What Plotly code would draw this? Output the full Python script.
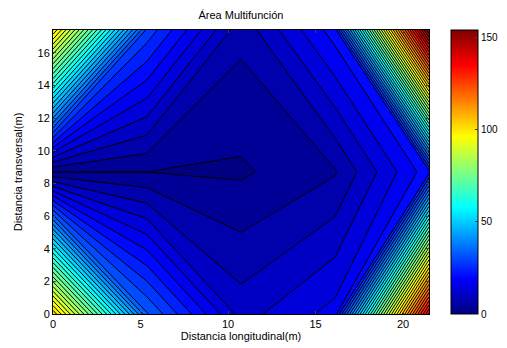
import plotly.graph_objects as go

# Grid (metres)
x_vals = [0, 5.37, 10.74, 16.11, 21.48]
y_vals = [0, 8.7, 17.4]

# Values per row (y = 0, 8.7, 17.4)
z_row_0 = [103.0, 33.8, 11.96, 18.06, 138.0]
z_row_1 = [3.34, 3.34, 2.81, 6.37, 22.1]
z_row_2 = [100.0, 29.1, 7.7, 21.8, 154.0]

cbar_ticks = [0, 50, 100, 150]
c_min, c_max = 0, 154

jet = [
    [0.0, "rgb(0,0,128)"],
    [0.125, "rgb(0,0,255)"],
    [0.375, "rgb(0,255,255)"],
    [0.625, "rgb(255,255,0)"],
    [0.875, "rgb(255,0,0)"],
    [1.0, "rgb(128,0,0)"],
]

step = c_max / 46.0
font = "Liberation Sans, Arial, sans-serif"

fig = go.Figure()
fig.add_trace(go.Contour(
    x=x_vals, y=y_vals, z=[z_row_0, z_row_1, z_row_2],
    colorscale=jet, zauto=False, zmin=c_min, zmax=c_max,
    contours=dict(start=step, end=step * 45, size=step, coloring="fill", showlines=True),
    line=dict(color="black", width=1, smoothing=0),
    showscale=False, hoverinfo="skip",
))
fig.add_trace(go.Scatter(
    x=[None], y=[None], mode="markers", showlegend=False,
    marker=dict(color=[c_min], cmin=c_min, cmax=c_max, colorscale=jet, showscale=True,
                colorbar=dict(x=1.058, xanchor="left", y=0.5, yanchor="middle", len=1.0,
                              lenmode="fraction", thickness=27, thicknessmode="pixels",
                              outlinewidth=1, outlinecolor="black",
                              tickvals=cbar_ticks, ticks="inside", ticklen=3,
                              tickfont=dict(family=font, size=10, color="black"),
                              xpad=0, ypad=0)),
))

fig.update_layout(
    width=499, height=340,
    margin=dict(l=45, r=78, t=22, b=34, autoexpand=False),
    paper_bgcolor="white", plot_bgcolor="white",
    font=dict(family=font, size=11, color="black"),
    title=dict(text="Área Multifunción", x=0.5, xref="paper", xanchor="center",
               y=1 - 7 / 340, yref="container", yanchor="middle", font=dict(family=font, size=11)),
    showlegend=False,
)
fig.update_xaxes(range=[0, 21.48], tickvals=[0, 5, 10, 15, 20], ticks="inside", ticklen=3,
                 showline=True, linecolor="black", linewidth=1, mirror="ticks",
                 showgrid=False, zeroline=False, automargin=False,
                 title=dict(text="Distancia longitudinal(m)", standoff=0, font=dict(size=11)))
fig.update_yaxes(range=[0, 17.4], tickvals=list(range(0, 17, 2)), ticks="inside", ticklen=3,
                 showline=True, linecolor="black", linewidth=1, mirror="ticks",
                 showgrid=False, zeroline=False, automargin=False,
                 title=dict(text="Distancia transversal(m)", standoff=12, font=dict(size=11)))

fig.write_html("out.html")
